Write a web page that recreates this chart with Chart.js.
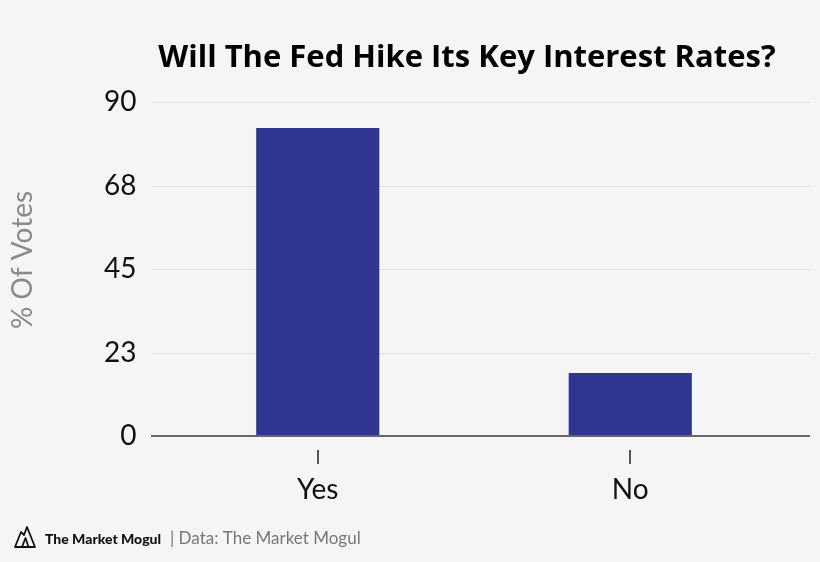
<!DOCTYPE html>
<html><head><meta charset="utf-8">
<script src="https://cdn.jsdelivr.net/npm/chart.js@4"></script>
<style>html,body{margin:0;padding:0;background:#f5f5f5;overflow:hidden;}</style>
</head><body>
<canvas id="c" width="820" height="562"></canvas>
<script>
const categories = ["Yes", "No"];
const votes = [83, 17];
const yTickLabels = ["0", "23", "45", "68", "90"];
const chartTitle = "Will The Fed Hike Its Key Interest Rates?";
const yAxisTitle = "% Of Votes";
const footerBrand = "The Market Mogul";
const footerSource = "| Data: The Market Mogul";

const BG = '#f5f5f5';
const BAR = '#2f3590';

const decor = {
  id: 'decor',
  beforeDraw(chart) {
    const ctx = chart.ctx;
    ctx.save();
    ctx.fillStyle = BG;
    ctx.fillRect(0, 0, chart.width, chart.height);
    ctx.restore();
  },
  beforeDatasetsDraw(chart) {
    const ctx = chart.ctx, y = chart.scales.y;
    ctx.save();
    ctx.strokeStyle = '#e2e2e2';
    ctx.lineWidth = 1;
    y.ticks.forEach(t => {
      if (t.value === 0) return;
      const py = Math.round(y.getPixelForValue(t.value)) + 0.5;
      ctx.beginPath(); ctx.moveTo(152, py); ctx.lineTo(810, py); ctx.stroke();
    });
    ctx.restore();
  },
  afterDatasetsDraw(chart) {
    const ctx = chart.ctx, y = chart.scales.y, x = chart.scales.x;
    ctx.save();
    const by = y.getPixelForValue(0);
    ctx.strokeStyle = '#666';
    ctx.lineWidth = 2;
    ctx.beginPath(); ctx.moveTo(151, by); ctx.lineTo(810, by); ctx.stroke();
    ctx.strokeStyle = '#222';
    ctx.lineWidth = 1.5;
    categories.forEach((c, i) => {
      const px = Math.round(x.getPixelForTick(i));
      ctx.beginPath(); ctx.moveTo(px, by + 14); ctx.lineTo(px, by + 28); ctx.stroke();
    });
    ctx.fillStyle = '#000';
    ctx.font = '700 31px "Open Sans"';
    ctx.textAlign = 'center';
    ctx.textBaseline = 'alphabetic';
    ctx.fillText(chartTitle, 467, 67);
    ctx.save();
    ctx.translate(32, 260);
    ctx.rotate(-Math.PI / 2);
    ctx.fillStyle = '#8a8a8a';
    ctx.font = '28px Lato';
    ctx.textAlign = 'center';
    ctx.textBaseline = 'alphabetic';
    ctx.fillText(yAxisTitle, 0, 0);
    ctx.restore();
    ctx.strokeStyle = '#111';
    ctx.lineWidth = 1.8;
    ctx.lineJoin = 'round';
    ctx.beginPath();
    ctx.moveTo(15, 547); ctx.lineTo(21, 532); ctx.lineTo(24, 535);
    ctx.lineTo(27, 527); ctx.lineTo(35, 547); ctx.closePath(); ctx.stroke();
    ctx.beginPath();
    ctx.moveTo(22, 547); ctx.lineTo(25.5, 538); ctx.lineTo(28.5, 547); ctx.stroke();
    ctx.textAlign = 'left';
    ctx.fillStyle = '#111';
    ctx.font = '900 14px Lato';
    ctx.fillText(footerBrand, 45, 544);
    ctx.fillStyle = '#777';
    ctx.font = '17px Lato';
    ctx.fillText(footerSource, 170, 544);
    ctx.restore();
  }
};

new Chart(document.getElementById('c'), {
  type: 'bar',
  data: {
    labels: categories,
    datasets: [{
      data: votes,
      backgroundColor: BAR,
      borderWidth: 0,
      barPercentage: 0.394,
      categoryPercentage: 1
    }]
  },
  options: {
    responsive: false,
    animation: false,
    devicePixelRatio: 1,
    layout: { padding: { top: 102, left: 0, right: 33.5, bottom: 0 } },
    plugins: { legend: { display: false }, title: { display: false }, tooltip: { enabled: false } },
    scales: {
      x: {
        grid: { display: false, drawTicks: false },
        border: { display: false },
        ticks: { font: { family: 'Lato', size: 28 }, color: '#111', padding: 37 },
        afterFit(s) { s.height = 126; }
      },
      y: {
        min: 0, max: 90,
        grid: { display: false, drawTicks: false },
        border: { display: false },
        ticks: {
          stepSize: 22.5,
          font: { family: 'Lato', size: 28 },
          color: '#111',
          padding: 25,
          callback: (v, i) => yTickLabels[i]
        },
        afterFit(s) { s.width = 161.5; }
      }
    }
  },
  plugins: [decor]
});
</script>
</body></html>
